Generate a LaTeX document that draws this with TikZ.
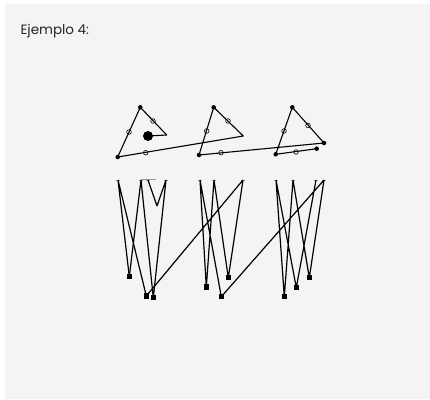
\documentclass[tikz,border=0pt]{standalone}
\usepackage{fontspec}
\setmainfont{Poppins}
\definecolor{panel}{HTML}{F4F4F4}
\definecolor{tick}{HTML}{999999}
\tikzset{
  vtx/.style={circle,fill=black,inner sep=0pt,minimum size=4.5pt},
  mid/.style={circle,draw=black,line width=0.6pt,inner sep=0pt,minimum size=4.6pt},
  big/.style={circle,fill=black,inner sep=0pt,minimum size=10pt},
  sq/.style={rectangle,fill=black,inner sep=0pt,minimum size=5.5pt},
  topt/.style={rectangle,fill=tick,inner sep=0pt,minimum width=4.5pt,minimum height=1pt},
  edge/.style={draw=black,line width=1.1pt},
  low edge/.style={draw=black,line width=1.2pt}
}
\begin{document}
\begin{tikzpicture}[x=1pt,y=-1pt]
\useasboundingbox (0,0) rectangle (430,399);
\fill[white] (0,0) rectangle (430,399);
\fill[panel] (5,4) rectangle (430,399);
\node[anchor=base west,inner sep=0pt,font=\fontsize{13.5}{17}\selectfont,text=black!85] (title) at (20.3,34) {Ejemplo 4:};
% upper polyline vertices
\node[big] (B) at (148,136) {};
\coordinate (a1) at (166.7,135);
\node[vtx] (a2) at (140.3,107.3) {};
\node[vtx] (a3) at (117.7,157) {};
\coordinate (b1) at (243.3,136);
\node[vtx] (b2) at (213.7,107.3) {};
\node[vtx] (b3) at (199,155) {};
\node[vtx] (c1) at (324,143) {};
\node[vtx] (c2) at (292.3,107.3) {};
\node[vtx] (c3) at (275.7,154.3) {};
\node[vtx] (c4) at (316.7,148.7) {};
\draw[edge,line join=round] (B.center)--(a1)--(a2.center)--(a3.center)--(b1)--(b2.center)--(b3.center)--(c1.center)--(c2.center)--(c3.center)--(c4.center);
\foreach \n/\p in {m1/{129,132},m2/{153,121},m3/{145.7,152.7},m4/{221,152.7},m5/{206.7,131},m6/{228,121},m7/{284,131},m8/{308,125.5},m9/{296,152}}
  \node[mid] (\n) at (\p) {};
% lower figure
\draw[tick,line width=1pt] (141,179) -- (155.7,179);
\foreach \n/\x in {t1/118,t2/141,t3/148,t4/166,t5/200,t6/214,t7/243,t8/276,t9/293,t10/316,t11/324}
  \node[topt] (\n) at (\x,180) {};
\coordinate (v) at (157,206);
\node[sq] (s1) at (129.3,276.7) {};
\node[sq] (s2) at (146.3,296) {};
\node[sq] (s3) at (153.3,297.7) {};
\node[sq] (s4) at (206.3,287) {};
\node[sq] (s5) at (228.3,277.7) {};
\node[sq] (s6) at (221.3,296.7) {};
\node[sq] (s7) at (284.3,296.7) {};
\node[sq] (s8) at (296.3,287.7) {};
\node[sq] (s9) at (309.3,277.7) {};
\draw[low edge,line join=bevel]
  (s1.center)--(t1.center)--(s2.center)--(t7.center)--(s5.center)--(t6.center)--(s4.center)--(t5.center)--(s6.center)--(t11.center)--(s9.center)--(t9.center)--(s7.center)--(t8.center)--(s8.center)--(t10.center);
\draw[low edge,line join=bevel]
  (s1.center)--(t2.center)--(s3.center)--(t4.center)--(v)--(t3.center);
\end{tikzpicture}
\end{document}
